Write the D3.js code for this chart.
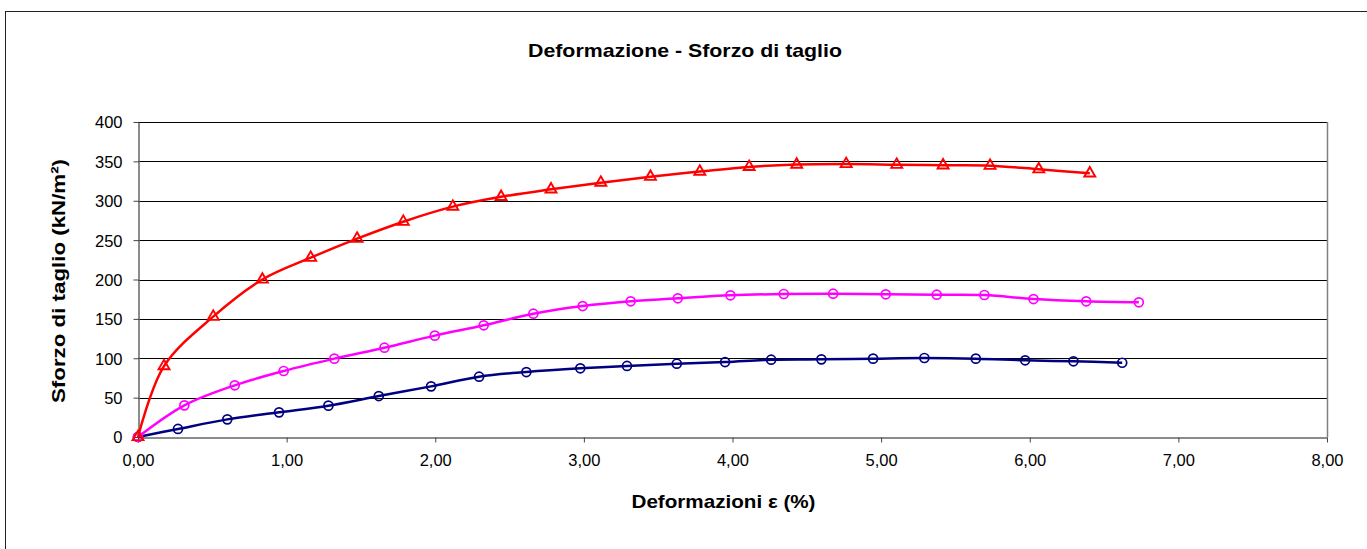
<!DOCTYPE html>
<html><head><meta charset="utf-8">
<script src="https://cdn.jsdelivr.net/npm/d3@7"></script>
<style>body{margin:0;background:#fff;} svg{display:block;font-family:"Liberation Sans",Arial,sans-serif;}</style>
</head><body>
<svg id="c" width="1367" height="549"></svg>
<script>
const title = "Deformazione - Sforzo di taglio";
const xTitle = "Deformazioni ε (%)";
const yTitle = "Sforzo di taglio (kN/m²)";
const xTicks = [0,1,2,3,4,5,6,7,8];
const yTicks = [0,50,100,150,200,250,300,350,400];

const redX = [0,0.175,0.506,0.837,1.162,1.474,1.785,2.118,2.443,2.779,3.114,3.448,3.78,4.112,4.432,4.765,5.105,5.417,5.733,6.061,6.404];
const redY = [0,90,152.8,200,227.7,251.9,273.4,292.5,305,314.5,323,330.5,337,343,346,346.7,345.8,345,344.5,340,334.8];
const magX = [0,0.312,0.651,0.98,1.321,1.658,1.997,2.326,2.66,2.992,3.315,3.632,3.986,4.345,4.677,5.031,5.374,5.695,6.025,6.38,6.734];
const magY = [0,40.2,65.6,83.8,99.5,113.4,128.7,141.8,156.6,166.3,172.3,176.1,179.9,181.6,182,181.2,180.7,180.3,175.2,172.3,171];
const navX = [0,0.269,0.601,0.949,1.281,1.62,1.972,2.295,2.613,2.976,3.29,3.625,3.95,4.26,4.598,4.946,5.291,5.637,5.969,6.294,6.622];
const navY = [0,10.2,22.4,31.3,39.8,52,64.3,76.6,82.5,87.2,90.2,93.1,95.2,98.2,98.6,99.5,100.3,99.5,97.4,96.1,94.3];

const series = [
  {x:navX, y:navY, color:"#000080", marker:"circle"},
  {x:magX, y:magY, color:"#FF00FF", marker:"circle"},
  {x:redX, y:redY, color:"#FF0000", marker:"triangle"}
];

const svg = d3.select("#c");
const L = 138, R = 1327, T = 122, B = 437;
const x = d3.scaleLinear().domain([0,8]).range([L,R]);
const y = d3.scaleLinear().domain([0,400]).range([B,T]);

// outer frame
svg.append("rect").attr("x",5.5).attr("y",11.5).attr("width",1400).attr("height",600)
  .attr("fill","none").attr("stroke","#222").attr("stroke-width",1);

// title
svg.append("text").attr("x",685).attr("y",57).attr("text-anchor","middle")
  .attr("font-size",19).attr("font-weight","bold")
  .attr("textLength",314).attr("lengthAdjust","spacingAndGlyphs").text(title);

// gridlines
svg.append("g").selectAll("line").data(yTicks.filter(d=>d>0)).join("line")
  .attr("x1",L).attr("x2",R).attr("y1",d=>Math.round(y(d))+0.5).attr("y2",d=>Math.round(y(d))+0.5)
  .attr("stroke","#000").attr("stroke-width",1);

// right border
svg.append("line").attr("x1",R+0.5).attr("x2",R+0.5).attr("y1",T).attr("y2",B)
  .attr("stroke","#808080").attr("stroke-width",1.5);

// axes
const fmt = d => d3.format(".2f")(d).replace(".", ",");
const xAxis = svg.append("g").attr("transform",`translate(0,${B+0.5})`)
  .call(d3.axisBottom(x).tickValues(xTicks).tickFormat(fmt).tickSize(5).tickSizeOuter(0));
const yAxis = svg.append("g").attr("transform",`translate(${L+0.5},0)`)
  .call(d3.axisLeft(y).tickValues(yTicks).tickSize(5).tickPadding(11).tickSizeOuter(0));
[xAxis,yAxis].forEach(a=>{
  a.select(".domain").attr("stroke","#666").attr("stroke-width",1.5);
  a.selectAll(".tick line").attr("stroke","#444");
  a.selectAll("text").attr("font-size",16.5).attr("fill","#000").attr("font-family","Liberation Sans, Arial, sans-serif");
});
xAxis.selectAll("text").attr("y",28).attr("dy",0);
yAxis.selectAll("text").attr("dy","0.36em");

// axis titles
svg.append("text").attr("x",723.5).attr("y",508).attr("text-anchor","middle")
  .attr("font-size",19).attr("font-weight","bold")
  .attr("textLength",184).attr("lengthAdjust","spacingAndGlyphs").text(xTitle);
svg.append("text").attr("transform","translate(65,281) rotate(-90)").attr("text-anchor","middle")
  .attr("font-size",19).attr("font-weight","bold")
  .attr("textLength",244).attr("lengthAdjust","spacingAndGlyphs").text(yTitle);

// series
const line = d3.line().x(d=>x(d[0])).y(d=>y(d[1])).curve(d3.curveCatmullRom.alpha(0.5));
series.forEach(s=>{
  const pts = s.x.map((v,i)=>[v,s.y[i]]);
  svg.append("path").datum(pts).attr("d",line).attr("fill","none")
    .attr("stroke",s.color).attr("stroke-width",2.5);
  const g = svg.append("g");
  if (s.marker==="circle") {
    g.selectAll("circle").data(pts).join("circle")
      .attr("cx",d=>x(d[0])).attr("cy",d=>y(d[1])).attr("r",4.5)
      .attr("fill","none").attr("stroke",s.color).attr("stroke-width",1.7);
  } else {
    const tri = d3.symbol().type(d3.symbolTriangle).size(52);
    g.selectAll("path").data(pts).join("path")
      .attr("transform",d=>`translate(${x(d[0])},${y(d[1])})`).attr("d",tri)
      .attr("fill","none").attr("stroke",s.color).attr("stroke-width",1.9);
  }
});
</script>
</body></html>
